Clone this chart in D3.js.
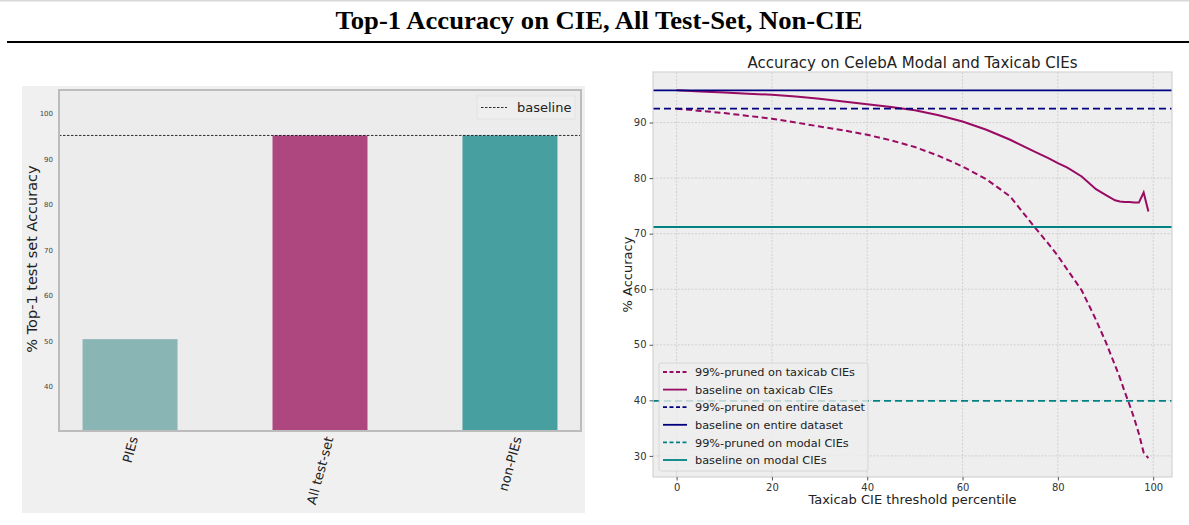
<!DOCTYPE html>
<html><head><meta charset="utf-8">
<script src="https://cdn.jsdelivr.net/npm/d3@7"></script>
<style>body{margin:0;background:#fff}svg{display:block;font-family:"DejaVu Sans",sans-serif}</style>
</head><body><svg id="c" width="1189" height="525"></svg>
<script>
// ---------- data ----------
const mainTitle = "Top-1 Accuracy on CIE, All Test-Set, Non-CIE";
const barCategories = ["PIEs", "All test-set", "non-PIEs"];
const barValues = [50.4, 95.2, 95.2];
const barBaseline = [95.2];
const leftYTicks = [40, 50, 60, 70, 80, 90, 100];

const curveX =            [0, 5, 10, 15, 20, 25, 30, 35, 40, 45, 50, 55, 60, 65, 70, 75, 78, 80, 82, 85, 88, 90, 92, 93, 94, 95, 96, 97, 98, 99];
const prunedTaxicab =     [92.5, 92.1, 91.7, 91.2, 90.7, 90.0, 89.3, 88.6, 87.8, 86.8, 85.6, 84.0, 82.1, 79.8, 76.7, 71.3, 68.2, 66.0, 63.5, 59.8, 54.5, 50.6, 46.3, 44.1, 41.6, 39.3, 36.8, 34.0, 30.6, 29.6];
const baselineTaxicab =   [95.8, 95.6, 95.4, 95.2, 95.0, 94.7, 94.3, 93.8, 93.3, 92.8, 92.2, 91.3, 90.2, 88.7, 86.9, 84.8, 83.6, 82.7, 81.9, 80.3, 78.0, 77.0, 76.0, 75.8, 75.7, 75.7, 75.6, 75.6, 77.4, 74.0];
const hLineValues = [92.5, 95.8, 39.9, 71.2]; // pruned entire, baseline entire, pruned modal, baseline modal
const rightXTicks = [0, 20, 40, 60, 80, 100];
const rightYTicks = [30, 40, 50, 60, 70, 80, 90];
const legendLabels = ["99%-pruned on taxicab CIEs", "baseline on taxicab CIEs", "99%-pruned on entire dataset", "baseline on entire dataset", "99%-pruned on modal CIEs", "baseline on modal CIEs"];

// ---------- styles ----------
const barColors = ["#8ab5b5", "#ae4780", "#479fa0"];
const magenta = "#990a63", navy = "#00007f", teal = "#008282";

const svg = d3.select("#c");

// header
svg.append("line").attr("x1", 0).attr("x2", 1189).attr("y1", 0.5).attr("y2", 0.5).attr("stroke", "#d8d8d8").attr("stroke-width", 2);
svg.append("text").attr("x", 599).attr("y", 28.5).attr("text-anchor", "middle")
  .attr("font-family", "'Liberation Serif','Times New Roman',serif").attr("font-weight", "bold")
  .attr("font-size", 26).attr("textLength", 527).attr("lengthAdjust", "spacingAndGlyphs").text(mainTitle);
svg.append("line").attr("x1", 7).attr("x2", 1189).attr("y1", 42).attr("y2", 42).attr("stroke", "#000").attr("stroke-width", 2);

// ---------- left bar chart ----------
svg.append("rect").attr("x", 22).attr("y", 86).attr("width", 563).attr("height", 427).attr("fill", "#f0f0f0");
const L = {x0: 59, x1: 581, y0: 90, y1: 431};
const lx = d3.scaleLinear().domain([-0.374, 2.374]).range([L.x0, L.x1]);
const ly = d3.scaleLinear().domain([30.2, 105.2]).range([L.y1, L.y0]);
svg.append("rect").attr("x", L.x0).attr("y", L.y0).attr("width", L.x1 - L.x0).attr("height", L.y1 - L.y0).attr("fill", "#ececec");
const lg = svg.append("g");
lg.selectAll("rect.bar").data(barValues).join("rect").attr("class", "bar")
  .attr("x", (d, i) => lx(i - 0.25)).attr("width", lx(0.25) - lx(-0.25))
  .attr("y", d => ly(d)).attr("height", d => L.y1 - ly(d))
  .attr("fill", (d, i) => barColors[i]);
lg.selectAll("line.base").data(barBaseline).join("line").attr("class", "base")
  .attr("x1", L.x0).attr("x2", L.x1).attr("y1", d => ly(d)).attr("y2", d => ly(d))
  .attr("stroke", "#000").attr("stroke-width", 0.8).attr("stroke-dasharray", "2.5,1.5");
svg.append("rect").attr("x", L.x0).attr("y", L.y0).attr("width", L.x1 - L.x0).attr("height", L.y1 - L.y0)
  .attr("fill", "none").attr("stroke", "#bcbcbc").attr("stroke-width", 2);
// left y axis
const lyAxis = svg.append("g").attr("transform", `translate(${L.x0},0)`)
  .call(d3.axisLeft(ly).tickValues(leftYTicks).tickSize(0).tickPadding(6));
lyAxis.select(".domain").remove();
lyAxis.selectAll("text").attr("font-size", 7).attr("fill", "#444").attr("font-family", "'DejaVu Sans',sans-serif");
// left x labels
const lxl = svg.append("g");
barCategories.forEach((c, i) => {
  const t = lxl.append("text").attr("font-size", 13).attr("fill", "#222").attr("text-anchor", "end").text(c);
  const w = t.node().getComputedTextLength();
  const a = 75 * Math.PI / 180;
  const px = lx(i) + w * Math.cos(a) / 2 + 9.5 * Math.sin(a) / 2;
  t.attr("transform", `translate(${px},438) rotate(-75)`);
});
svg.append("text").attr("transform", "translate(37,259) rotate(-90)").attr("text-anchor", "middle")
  .attr("font-size", 14.5).attr("fill", "#222").text("% Top-1 test set Accuracy");
// left legend
svg.append("rect").attr("x", 477).attr("y", 96).attr("width", 98).attr("height", 23).attr("fill", "#eeeeee").attr("stroke", "#e2e2e2");
svg.append("line").attr("x1", 481).attr("x2", 507).attr("y1", 107.5).attr("y2", 107.5).attr("stroke", "#000").attr("stroke-width", 0.8).attr("stroke-dasharray", "2.5,1.5");
svg.append("text").attr("x", 517).attr("y", 112).attr("font-size", 13).attr("fill", "#222").text("baseline");

// ---------- right line chart ----------
const R = {x0: 653, x1: 1172, y0: 72, y1: 477};
const rx = d3.scaleLinear().domain([-4.95, 103.95]).range([R.x0, R.x1]);
const ry = d3.scaleLinear().domain([26.2, 99.1]).range([R.y1, R.y0]);
svg.append("rect").attr("x", R.x0).attr("y", R.y0).attr("width", R.x1 - R.x0).attr("height", R.y1 - R.y0).attr("fill", "#eeeeee");
const grid = svg.append("g").attr("stroke", "#c4c4c4").attr("stroke-width", 0.7).attr("stroke-dasharray", "2,1.5");
grid.selectAll("line.gx").data(rightXTicks).join("line").attr("x1", d => rx(d)).attr("x2", d => rx(d)).attr("y1", R.y0).attr("y2", R.y1);
grid.selectAll("line.gy").data(rightYTicks).join("line").attr("y1", d => ry(d)).attr("y2", d => ry(d)).attr("x1", R.x0).attr("x2", R.x1);

const styles = [
  {color: magenta, dash: "6,3.5"}, {color: magenta, dash: null},
  {color: navy, dash: "7,4"}, {color: navy, dash: null},
  {color: teal, dash: "7,4"}, {color: teal, dash: null}
];
const line = d3.line().x((d, i) => rx(curveX[i])).y(d => ry(d));
const plot = svg.append("g");
[prunedTaxicab, baselineTaxicab].forEach((s, k) => {
  plot.append("path").datum(s).attr("d", line).attr("fill", "none")
    .attr("stroke", styles[k].color).attr("stroke-width", 2).attr("stroke-dasharray", styles[k].dash);
});
hLineValues.forEach((v, j) => {
  const st = styles[j + 2];
  plot.append("line").attr("x1", R.x0).attr("x2", R.x1).attr("y1", ry(v)).attr("y2", ry(v))
    .attr("stroke", st.color).attr("stroke-width", 1.8).attr("stroke-dasharray", st.dash);
});
svg.append("rect").attr("x", R.x0).attr("y", R.y0).attr("width", R.x1 - R.x0).attr("height", R.y1 - R.y0)
  .attr("fill", "none").attr("stroke", "#d4d4d4").attr("stroke-width", 1.2);
// axes
const rxAxis = svg.append("g").attr("transform", `translate(0,${R.y1})`).call(d3.axisBottom(rx).tickValues(rightXTicks).tickSize(3.5).tickPadding(3));
const ryAxis = svg.append("g").attr("transform", `translate(${R.x0},0)`).call(d3.axisLeft(ry).tickValues(rightYTicks).tickSize(3.5).tickPadding(3));
[rxAxis, ryAxis].forEach(a => {
  a.select(".domain").remove();
  a.selectAll("line").attr("stroke", "#555");
  a.selectAll("text").attr("font-size", 10).attr("fill", "#333").attr("font-family", "'DejaVu Sans',sans-serif");
});
svg.append("text").attr("x", (R.x0 + R.x1) / 2).attr("y", 68).attr("text-anchor", "middle").attr("font-size", 15).attr("fill", "#222").text("Accuracy on CelebA Modal and Taxicab CIEs");
svg.append("text").attr("x", (R.x0 + R.x1) / 2).attr("y", 504).attr("text-anchor", "middle").attr("font-size", 13).attr("fill", "#222").text("Taxicab CIE threshold percentile");
svg.append("text").attr("transform", `translate(632,${(R.y0 + R.y1) / 2}) rotate(-90)`).attr("text-anchor", "middle").attr("font-size", 13).attr("fill", "#222").text("% Accuracy");
// legend
const leg = svg.append("g");
leg.append("rect").attr("x", 659).attr("y", 363).attr("width", 209).attr("height", 108).attr("rx", 2)
  .attr("fill", "#eeeeee").attr("fill-opacity", 0.8).attr("stroke", "#d0d0d0").attr("stroke-width", 0.8);
legendLabels.forEach((lab, i) => {
  const y = 372 + i * 17.6;
  leg.append("line").attr("x1", 663).attr("x2", 687).attr("y1", y).attr("y2", y)
    .attr("stroke", styles[i].color).attr("stroke-width", 1.8).attr("stroke-dasharray", styles[i].dash ? "4,2.5" : null);
  leg.append("text").attr("x", 695).attr("y", y + 4.2).attr("font-size", 11.3).attr("fill", "#222").text(lab);
});
</script></body></html>
